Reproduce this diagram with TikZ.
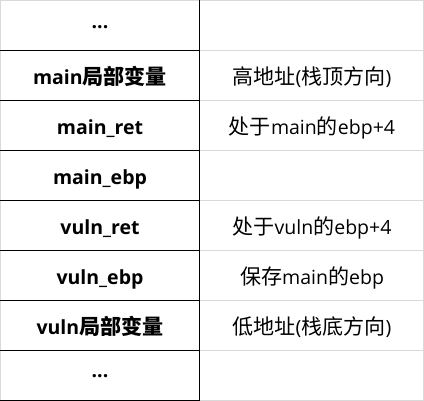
\documentclass[tikz,border=0pt]{standalone}
\usepackage{fontspec}
\setmainfont{Open Sans}
\newfontfamily\cjk[Scale=1.08]{Noto Sans CJK SC}
\definecolor{gridgray}{RGB}{217,217,217}
\begin{document}
\begin{tikzpicture}[x=1pt,y=-1pt,
  leftcell/.style={font=\fontsize{19.5}{22}\selectfont\bfseries, text=black, anchor=base, inner sep=0pt},
  rightcell/.style={font=\fontsize{19.5}{22}\selectfont, text=black, anchor=base, inner sep=0pt},
  thin gray/.style={draw=gridgray, line width=1pt},
  thin black/.style={draw=black, line width=1.2pt}]
\useasboundingbox (0,0) rectangle (424,401);
% gray grid (right column and outer)
\foreach \k in {0,...,8} {
  \draw[thin gray] (199.5,{0.5+50*\k}) -- (424,{0.5+50*\k});
}
\draw[thin gray] (0,0.5) -- (199.5,0.5);
\draw[thin gray] (0.5,0) -- (0.5,401);
\draw[thin gray] (423.5,0) -- (423.5,401);
% black lines in left column
\foreach \k in {1,...,8} {
  \draw[thin black] (0,{0.5+50*\k}) -- (199.5,{0.5+50*\k});
}
\draw[thin black] (199.5,0) -- (199.5,401);
% texts
\node[leftcell] (l1) at (100,29) {...};
\node[leftcell] (l2) at (100,84.5) {main{\cjk\bfseries 局部变量}};
\node[leftcell] (l3) at (100,135) {main\_ret};
\node[leftcell] (l4) at (100,185) {main\_ebp};
\node[leftcell] (l5) at (100,235) {vuln\_ret};
\node[leftcell] (l6) at (100,285) {vuln\_ebp};
\node[leftcell] (l7) at (100,335) {vuln{\cjk\bfseries 局部变量}};
\node[leftcell] (l8) at (100,377.5) {...};
\node[rightcell] (r2) at (312,84.5) {{\cjk 高地址}({\cjk 栈顶方向})};
\node[rightcell] (r3) at (312,135) {{\cjk 处于}main{\cjk 的}ebp+4};
\node[rightcell] (r5) at (312,235) {{\cjk 处于}vuln{\cjk 的}ebp+4};
\node[rightcell] (r6) at (312,285) {{\cjk 保存}main{\cjk 的}ebp};
\node[rightcell] (r7) at (312,335) {{\cjk 低地址}({\cjk 栈底方向})};
\end{tikzpicture}
\end{document}
